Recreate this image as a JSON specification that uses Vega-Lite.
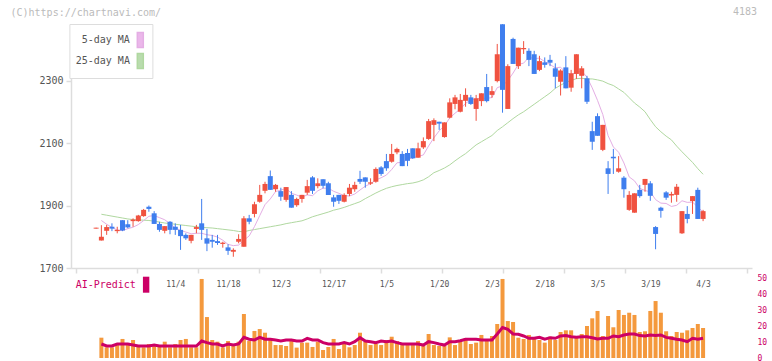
{
"$schema": "https://vega.github.io/schema/vega-lite/v6.json",
"background": "white",
"padding": {"left": 10, "top": 7, "right": 0, "bottom": 0},
"config": {"view": {"stroke": null}, "font": "DejaVu Sans Mono", "axis": {"labelFont": "DejaVu Sans Mono", "titleFont": "DejaVu Sans Mono"}},
"spacing": 0,
"resolve": {"scale": {"color": "independent"}, "legend": {"color": "independent"}},
"datasets": {"d": [
{"i":0,"o":1826,"h":1829,"l":1826,"c":1829,"v":null,"ai":null,"m5":null,"m25":null},
{"i":1,"o":1788,"h":1837,"l":1788,"c":1800,"v":12.7,"ai":8.75,"m5":1852,"m25":1872},
{"i":2,"o":1819,"h":1838,"l":1806,"c":1831,"v":6.7,"ai":7.5,"m5":1840,"m25":1869},
{"i":3,"o":1832,"h":1843,"l":1818,"c":1826,"v":6.7,"ai":7.5,"m5":1830,"m25":1866},
{"i":4,"o":1818,"h":1832,"l":1811,"c":1822,"v":8.1,"ai":8.75,"m5":1821.4,"m25":1863},
{"i":5,"o":1853,"h":1853,"l":1818,"c":1820,"v":11.9,"ai":8.75,"m5":1819.8,"m25":1860},
{"i":6,"o":1840,"h":1853,"l":1827,"c":1830,"v":8.1,"ai":8.75,"m5":1825.8,"m25":1857},
{"i":7,"o":1850,"h":1859,"l":1832,"c":1855,"v":11.25,"ai":8.1,"m5":1830.6,"m25":1855},
{"i":8,"o":1850,"h":1870,"l":1848,"c":1868,"v":7.5,"ai":7.5,"m5":1839,"m25":1854},
{"i":9,"o":1866,"h":1889,"l":1864,"c":1886,"v":6.7,"ai":7.5,"m5":1851.8,"m25":1853},
{"i":10,"o":1896,"h":1900,"l":1880,"c":1889,"v":8.75,"ai":7.5,"m5":1865.6,"m25":1852},
{"i":11,"o":1875,"h":1882,"l":1841,"c":1841,"v":7.5,"ai":8.1,"m5":1867.8,"m25":1850},
{"i":12,"o":1841,"h":1848,"l":1816,"c":1822,"v":8.1,"ai":7.5,"m5":1861.2,"m25":1847},
{"i":13,"o":1819,"h":1834,"l":1811,"c":1834,"v":10.2,"ai":7.5,"m5":1854.4,"m25":1844},
{"i":14,"o":1848,"h":1850,"l":1808,"c":1822,"v":6.7,"ai":7.5,"m5":1841.6,"m25":1842},
{"i":15,"o":1832,"h":1843,"l":1806,"c":1822,"v":8.75,"ai":7.5,"m5":1828.2,"m25":1840},
{"i":16,"o":1822,"h":1838,"l":1758,"c":1802,"v":11.25,"ai":7.5,"m5":1820.4,"m25":1838},
{"i":17,"o":1806,"h":1811,"l":1790,"c":1795,"v":11.9,"ai":7.5,"m5":1815,"m25":1836},
{"i":18,"o":1787,"h":1806,"l":1779,"c":1806,"v":6.7,"ai":7.5,"m5":1809.4,"m25":1834},
{"i":19,"o":1825,"h":1838,"l":1811,"c":1831,"v":6.7,"ai":7.5,"m5":1811.2,"m25":1832},
{"i":20,"o":1843,"h":1921,"l":1790,"c":1822,"v":49.4,"ai":10.6,"m5":1811.2,"m25":1830},
{"i":21,"o":1795,"h":1825,"l":1754,"c":1778,"v":25.6,"ai":9.6,"m5":1806.4,"m25":1829},
{"i":22,"o":1790,"h":1806,"l":1765,"c":1784,"v":11.25,"ai":8.75,"m5":1804.2,"m25":1828},
{"i":23,"o":1786,"h":1806,"l":1774,"c":1780,"v":10.2,"ai":8.75,"m5":1799,"m25":1826},
{"i":24,"o":1777,"h":1784,"l":1765,"c":1781,"v":6.7,"ai":7.5,"m5":1789,"m25":1824},
{"i":25,"o":1766,"h":1776,"l":1742,"c":1755,"v":10.6,"ai":8.75,"m5":1775.6,"m25":1822},
{"i":26,"o":1752,"h":1763,"l":1736,"c":1758,"v":8.1,"ai":8.1,"m5":1771.6,"m25":1820},
{"i":27,"o":1784,"h":1808,"l":1779,"c":1793,"v":10.2,"ai":8.75,"m5":1773.4,"m25":1817},
{"i":28,"o":1768,"h":1866,"l":1768,"c":1859,"v":27.5,"ai":12.9,"m5":1789.2,"m25":1816},
{"i":29,"o":1859,"h":1870,"l":1840,"c":1848,"v":10.6,"ai":11.7,"m5":1802.6,"m25":1820},
{"i":30,"o":1873,"h":1912,"l":1862,"c":1904,"v":16.9,"ai":11.25,"m5":1832.4,"m25":1823},
{"i":31,"o":1912,"h":1966,"l":1909,"c":1934,"v":18.1,"ai":12.9,"m5":1867.6,"m25":1826},
{"i":32,"o":1947,"h":1976,"l":1939,"c":1969,"v":15.8,"ai":11.7,"m5":1902.8,"m25":1829},
{"i":33,"o":1994,"h":2012,"l":1950,"c":1950,"v":12.3,"ai":11.7,"m5":1921,"m25":1832},
{"i":34,"o":1952,"h":1969,"l":1944,"c":1966,"v":8.1,"ai":11.25,"m5":1944.6,"m25":1835},
{"i":35,"o":1946,"h":1957,"l":1915,"c":1928,"v":8.1,"ai":10.6,"m5":1949.4,"m25":1838},
{"i":36,"o":1918,"h":1959,"l":1912,"c":1959,"v":7.5,"ai":11.25,"m5":1954.4,"m25":1842},
{"i":37,"o":1934,"h":1946,"l":1893,"c":1893,"v":10.6,"ai":11.25,"m5":1939.2,"m25":1845},
{"i":38,"o":1901,"h":1925,"l":1896,"c":1921,"v":6.5,"ai":10.6,"m5":1933.4,"m25":1848},
{"i":39,"o":1921,"h":1934,"l":1909,"c":1934,"v":9.6,"ai":10.6,"m5":1927,"m25":1851},
{"i":40,"o":1941,"h":1982,"l":1934,"c":1962,"v":9.6,"ai":12.3,"m5":1933.8,"m25":1857},
{"i":41,"o":1990,"h":1994,"l":1937,"c":1947,"v":6.9,"ai":11.25,"m5":1931.4,"m25":1864},
{"i":42,"o":1962,"h":1987,"l":1955,"c":1971,"v":10.2,"ai":11.25,"m5":1947,"m25":1869},
{"i":43,"o":1984,"h":1984,"l":1955,"c":1963,"v":5,"ai":9.6,"m5":1955.4,"m25":1874},
{"i":44,"o":1971,"h":1976,"l":1934,"c":1934,"v":6.9,"ai":8.75,"m5":1955.4,"m25":1879},
{"i":45,"o":1926,"h":1934,"l":1896,"c":1912,"v":11.9,"ai":8.75,"m5":1945.4,"m25":1885},
{"i":46,"o":1934,"h":1934,"l":1905,"c":1915,"v":5.6,"ai":8.75,"m5":1939,"m25":1889},
{"i":47,"o":1912,"h":1939,"l":1910,"c":1934,"v":8.75,"ai":9.6,"m5":1931.6,"m25":1894},
{"i":48,"o":1937,"h":1969,"l":1930,"c":1957,"v":6.7,"ai":8.75,"m5":1930.4,"m25":1900},
{"i":49,"o":1952,"h":1976,"l":1944,"c":1966,"v":8.1,"ai":10.2,"m5":1936.8,"m25":1906},
{"i":50,"o":1985,"h":2011,"l":1969,"c":1976,"v":15.8,"ai":12.7,"m5":1949.6,"m25":1912},
{"i":51,"o":1990,"h":1990,"l":1957,"c":1976,"v":10.2,"ai":10.6,"m5":1961.8,"m25":1922},
{"i":52,"o":1970,"h":1987,"l":1966,"c":1974,"v":8.1,"ai":10.2,"m5":1969.8,"m25":1931},
{"i":53,"o":1976,"h":2022,"l":1973,"c":2017,"v":8.75,"ai":9.6,"m5":1981.8,"m25":1940},
{"i":54,"o":2022,"h":2026,"l":1995,"c":2001,"v":8.1,"ai":10.6,"m5":1988.8,"m25":1948},
{"i":55,"o":2042,"h":2065,"l":2011,"c":2019,"v":11.25,"ai":10.2,"m5":1997.4,"m25":1955},
{"i":56,"o":2040,"h":2097,"l":2037,"c":2065,"v":13.3,"ai":10.6,"m5":2015.2,"m25":1960},
{"i":57,"o":2070,"h":2085,"l":2064,"c":2081,"v":10.6,"ai":9.6,"m5":2036.6,"m25":1964},
{"i":58,"o":2065,"h":2074,"l":2026,"c":2026,"v":8.1,"ai":8.75,"m5":2038.4,"m25":1967},
{"i":59,"o":2068,"h":2081,"l":2026,"c":2043,"v":8.1,"ai":8.75,"m5":2046.8,"m25":1970},
{"i":60,"o":2083,"h":2083,"l":2049,"c":2051,"v":8.1,"ai":8.75,"m5":2053.2,"m25":1972},
{"i":61,"o":2053,"h":2101,"l":2053,"c":2083,"v":10.6,"ai":8.75,"m5":2056.8,"m25":1976},
{"i":62,"o":2086,"h":2118,"l":2081,"c":2106,"v":7.5,"ai":8.1,"m5":2061.8,"m25":1982},
{"i":63,"o":2113,"h":2177,"l":2110,"c":2170,"v":15,"ai":10.2,"m5":2090.6,"m25":1992},
{"i":64,"o":2158,"h":2179,"l":2106,"c":2173,"v":8.1,"ai":9.6,"m5":2116.6,"m25":2005},
{"i":65,"o":2168,"h":2168,"l":2142,"c":2162,"v":7.5,"ai":8.75,"m5":2138.8,"m25":2012},
{"i":66,"o":2119,"h":2166,"l":2117,"c":2166,"v":7.5,"ai":8.1,"m5":2155.4,"m25":2020},
{"i":67,"o":2181,"h":2243,"l":2179,"c":2230,"v":12.9,"ai":10.2,"m5":2180.2,"m25":2030},
{"i":68,"o":2225,"h":2254,"l":2208,"c":2246,"v":8.1,"ai":10.2,"m5":2195.4,"m25":2043},
{"i":69,"o":2200,"h":2257,"l":2198,"c":2238,"v":10.6,"ai":10.8,"m5":2208.4,"m25":2055},
{"i":70,"o":2235,"h":2275,"l":2216,"c":2254,"v":12.3,"ai":11.7,"m5":2226.8,"m25":2066},
{"i":71,"o":2246,"h":2254,"l":2222,"c":2225,"v":8.75,"ai":11.7,"m5":2238.6,"m25":2080},
{"i":72,"o":2209,"h":2254,"l":2171,"c":2243,"v":9.6,"ai":11.7,"m5":2241.2,"m25":2094},
{"i":73,"o":2234,"h":2259,"l":2218,"c":2259,"v":14.4,"ai":11.25,"m5":2243.8,"m25":2104},
{"i":74,"o":2279,"h":2321,"l":2230,"c":2234,"v":11.25,"ai":11.25,"m5":2243,"m25":2114},
{"i":75,"o":2254,"h":2282,"l":2245,"c":2266,"v":13.75,"ai":11.25,"m5":2245.4,"m25":2124},
{"i":76,"o":2298,"h":2417,"l":2294,"c":2384,"v":21.25,"ai":15,"m5":2277.2,"m25":2140},
{"i":77,"o":2480,"h":2480,"l":2197,"c":2270,"v":49.4,"ai":19,"m5":2282.6,"m25":2152},
{"i":78,"o":2209,"h":2352,"l":2209,"c":2346,"v":23.1,"ai":17.9,"m5":2300,"m25":2165},
{"i":79,"o":2433,"h":2437,"l":2353,"c":2353,"v":22.5,"ai":15,"m5":2323.8,"m25":2178},
{"i":80,"o":2346,"h":2405,"l":2337,"c":2405,"v":12.7,"ai":14.8,"m5":2351.6,"m25":2190},
{"i":81,"o":2400,"h":2426,"l":2385,"c":2404,"v":11.9,"ai":13.75,"m5":2355.6,"m25":2200},
{"i":82,"o":2395,"h":2403,"l":2346,"c":2366,"v":14.4,"ai":12.3,"m5":2374.8,"m25":2212},
{"i":83,"o":2384,"h":2395,"l":2321,"c":2321,"v":12.3,"ai":12.3,"m5":2369.8,"m25":2224},
{"i":84,"o":2334,"h":2379,"l":2330,"c":2362,"v":11.25,"ai":12.9,"m5":2371.6,"m25":2236},
{"i":85,"o":2358,"h":2374,"l":2341,"c":2350,"v":9.6,"ai":11.7,"m5":2360.6,"m25":2248},
{"i":86,"o":2366,"h":2382,"l":2346,"c":2357,"v":13.3,"ai":12.7,"m5":2351.2,"m25":2260},
{"i":87,"o":2339,"h":2355,"l":2275,"c":2312,"v":11.25,"ai":12.3,"m5":2340.4,"m25":2275},
{"i":88,"o":2296,"h":2336,"l":2252,"c":2332,"v":16.25,"ai":13.75,"m5":2342.6,"m25":2285},
{"i":89,"o":2342,"h":2378,"l":2275,"c":2275,"v":17.3,"ai":14,"m5":2325.2,"m25":2294},
{"i":90,"o":2277,"h":2334,"l":2264,"c":2323,"v":17.3,"ai":13.3,"m5":2319.8,"m25":2300},
{"i":91,"o":2321,"h":2384,"l":2305,"c":2384,"v":13.3,"ai":12.9,"m5":2325.2,"m25":2306},
{"i":92,"o":2315,"h":2346,"l":2275,"c":2339,"v":15,"ai":13.3,"m5":2330.6,"m25":2307},
{"i":93,"o":2307,"h":2315,"l":2225,"c":2232,"v":20,"ai":13.3,"m5":2310.6,"m25":2305},
{"i":94,"o":2138,"h":2168,"l":2078,"c":2104,"v":24.8,"ai":12.7,"m5":2276.4,"m25":2305},
{"i":95,"o":2186,"h":2195,"l":2123,"c":2123,"v":29.4,"ai":11.9,"m5":2236.4,"m25":2302},
{"i":96,"o":2078,"h":2158,"l":2074,"c":2158,"v":13.75,"ai":12.3,"m5":2191.2,"m25":2298},
{"i":97,"o":2019,"h":2042,"l":1937,"c":2001,"v":26.25,"ai":12.3,"m5":2123.6,"m25":2290},
{"i":98,"o":2056,"h":2081,"l":2001,"c":2051,"v":19.2,"ai":13.75,"m5":2087.4,"m25":2284},
{"i":99,"o":2008,"h":2058,"l":2005,"c":2019,"v":30,"ai":13.3,"m5":2070.4,"m25":2273},
{"i":100,"o":1989,"h":1994,"l":1925,"c":1952,"v":26.9,"ai":14.4,"m5":2036.2,"m25":2262},
{"i":101,"o":1886,"h":1946,"l":1883,"c":1934,"v":28.3,"ai":15,"m5":1991.4,"m25":2245},
{"i":102,"o":1877,"h":1939,"l":1877,"c":1939,"v":26.9,"ai":15,"m5":1979,"m25":2228},
{"i":103,"o":1950,"h":1966,"l":1925,"c":1930,"v":16.25,"ai":14,"m5":1954.8,"m25":2215},
{"i":104,"o":1966,"h":1985,"l":1944,"c":1985,"v":16.7,"ai":13.75,"m5":1948,"m25":2200},
{"i":105,"o":1971,"h":1978,"l":1915,"c":1931,"v":29.4,"ai":14.4,"m5":1943.8,"m25":2175},
{"i":106,"o":1831,"h":1834,"l":1760,"c":1809,"v":35.6,"ai":14,"m5":1918.8,"m25":2152},
{"i":107,"o":1893,"h":1896,"l":1861,"c":1883,"v":28.3,"ai":14.4,"m5":1907.6,"m25":2136},
{"i":108,"o":1942,"h":1946,"l":1918,"c":1925,"v":16.7,"ai":12.9,"m5":1906.6,"m25":2122},
{"i":109,"o":1932,"h":1944,"l":1909,"c":1937,"v":13.75,"ai":12.3,"m5":1897,"m25":2110},
{"i":110,"o":1934,"h":1969,"l":1912,"c":1960,"v":16.25,"ai":11.7,"m5":1900.6,"m25":2090},
{"i":111,"o":1811,"h":1882,"l":1809,"c":1882,"v":15.8,"ai":11.25,"m5":1915.2,"m25":2072},
{"i":112,"o":1873,"h":1898,"l":1843,"c":1857,"v":17.3,"ai":10.2,"m5":1910,"m25":2055},
{"i":113,"o":1914,"h":1930,"l":1873,"c":1930,"v":18.75,"ai":12.3,"m5":1911,"m25":2038},
{"i":114,"o":1950,"h":1957,"l":1857,"c":1857,"v":21.25,"ai":11.7,"m5":1895,"m25":2018},
{"i":115,"o":1857,"h":1886,"l":1850,"c":1882,"v":18.75,"ai":12.3,"m5":1879.4,"m25":2000}
]},
"vconcat": [
{
"width": 681, "height": 244,
"title": {"text": "4183", "anchor": "end", "frame": "group", "offset": -10, "dx": 5, "fontSize": 10, "font": "DejaVu Sans Mono", "fontWeight": "normal", "color": "#bbbbbb"},
"data": {"name": "d"},
"encoding": {
"x": {"field": "i", "type": "quantitative", "scale": {"domain": [-3.81, 123.32], "nice": false, "zero": false},
"axis": {"orient": "bottom", "values": [-3.81, 7.75, 19.3, 30.86, 42.42, 53.98, 65.53, 77.09, 88.65, 100.2, 111.76, 123.32], "labels": false, "title": null, "grid": false, "domainColor": "#dddddd", "domainWidth": 1.5, "tickColor": "#dddddd", "tickSize": 5, "tickWidth": 1.5, "minExtent": 0, "maxExtent": 5}}
},
"layer": [
{"mark": {"type": "line", "strokeWidth": 1, "clip": true},
"encoding": {
"y": {"field": "m25", "type": "quantitative", "scale": {"domain": [1700, 2480.8], "nice": false, "zero": false},
"axis": {"values": [1700, 1900, 2100, 2300], "format": "d", "grid": false, "domainColor": "#dddddd", "domainWidth": 1.5, "tickColor": "#dddddd", "tickSize": 5, "tickWidth": 1.5, "labelColor": "#555555", "labelFontSize": 10, "labelPadding": 3, "title": "(C)https://chartnavi.com/", "titleAngle": 0, "titleAlign": "left", "titleBaseline": "middle", "titleX": -61, "titleY": -12, "titleColor": "#bbbbbb", "titleFontSize": 10, "titleFontWeight": "normal"}},
"color": {"datum": "25-day MA", "scale": {"domain": ["5-day MA", "25-day MA"], "range": ["#e4aee4", "#b0d8a0"]},
"legend": {"orient": "none", "legendX": -1.6, "legendY": 0, "title": null, "fillColor": "white", "strokeColor": "#dddddd", "padding": 6, "rowPadding": -9, "labelFont": "DejaVu Sans Mono", "labelFontSize": 10, "labelColor": "#555555", "labelAlign": "right", "labelOffset": 42.5, "labelLimit": 0, "symbolType": "M11.18,-0.7H12.38V2.3H11.18Z", "symbolSize": 100, "symbolStrokeWidth": 1.5,
"encode": {"labels": {"update": {"dy": {"value": 4}}}, "symbols": {"update": {"fill": [{"test": "datum.value === '5-day MA'", "value": "#ebb7ea"}, {"value": "#b9dcae"}], "stroke": {"value": "#666666"}, "strokeWidth": {"value": 1.5}, "opacity": {"value": 1}}}}}}
}},
{"mark": {"type": "line", "strokeWidth": 1, "clip": true},
"encoding": {"y": {"field": "m5", "type": "quantitative"}, "color": {"datum": "5-day MA"}}},
{"mark": {"type": "rule", "strokeWidth": 1},
"encoding": {"y": {"field": "l", "type": "quantitative"}, "y2": {"field": "h"},
"color": {"condition": {"test": "datum.c >= datum.o", "value": "#f05240"}, "value": "#3f7eee"}}},
{"mark": {"type": "bar", "size": 5},
"encoding": {"y": {"field": "o", "type": "quantitative"}, "y2": {"field": "c"},
"color": {"condition": {"test": "datum.c >= datum.o", "value": "#f05240"}, "value": "#3f7eee"}}}
]
},
{
"width": 681, "height": 80,
"data": {"name": "d"},
"encoding": {
"x": {"field": "i", "type": "quantitative", "scale": {"domain": [-3.81, 123.32], "nice": false, "zero": false},
"axis": {"orient": "top", "values": [15, 25, 35, 45, 55, 65, 75, 85, 95, 105, 115], "labelExpr": "['11/4','11/18','12/3','12/17','1/5','1/20','2/3','2/18','3/5','3/19','4/3'][round((datum.value-15)/10)]", "domain": false, "ticks": false, "grid": false, "title": null, "offset": -10, "labelPadding": 0, "labelFontSize": 8, "labelColor": "#555555", "labelFlush": false, "labelOverlap": false}}
},
"layer": [
{"mark": {"type": "bar", "size": 4, "color": "#f4993d"},
"encoding": {"y": {"field": "v", "type": "quantitative", "scale": {"domain": [0, 50], "nice": false},
"axis": {"orient": "right", "values": [0, 10, 20, 30, 40, 50], "domain": false, "ticks": false, "grid": false, "title": null, "labelColor": "#cc0066", "labelFontSize": 8, "labelPadding": 5, "labelOverlap": false, "labelFlush": false, "labelBound": false}}}},
{"mark": {"type": "line", "strokeWidth": 3},
"encoding": {"y": {"field": "ai", "type": "quantitative",
"axis": {"orient": "right", "values": [0, 10, 20, 30, 40, 50], "domain": false, "ticks": false, "grid": false, "title": null, "labelColor": "#cc0066", "labelFontSize": 8, "labelPadding": 5, "labelOverlap": false, "labelFlush": false, "labelBound": false}},
"color": {"datum": "AI-Predict", "scale": {"domain": ["AI-Predict"], "range": ["#cc0066"]},
"legend": {"orient": "none", "legendX": 4.4, "legendY": -1.3, "title": null, "padding": 0, "labelFont": "DejaVu Sans Mono", "labelFontSize": 10, "labelColor": "#cc0066", "labelAlign": "right", "labelOffset": 44.5, "labelLimit": 0, "symbolType": "M7.44,-1H8.24V1H7.44Z", "symbolSize": 256, "symbolStrokeWidth": 0,
"encode": {"symbols": {"update": {"fill": {"value": "#cc0066"}, "stroke": {"value": "#cc0066"}, "strokeWidth": {"value": 0}, "opacity": {"value": 1}}}}}}}}
]
}
]
}
